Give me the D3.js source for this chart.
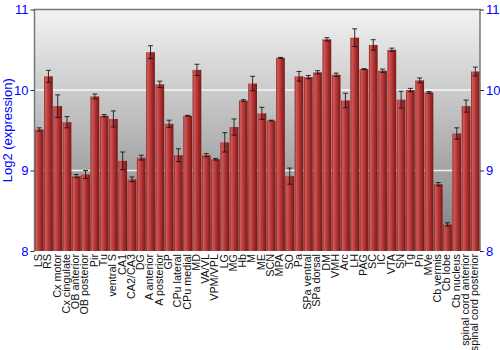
<!DOCTYPE html>
<html>
<head>
<meta charset="utf-8">
<script src="https://cdn.jsdelivr.net/npm/d3@7"></script>
<style>
  body { margin: 0; background: #fff; }
  svg { display: block; font-family: "Liberation Sans", Arial, sans-serif; }
</style>
</head>
<body>
<div class="js-chart"></div>
<script>
'use strict';

const regions = ["LS", "RS", "Cx motor", "Cx cingulate", "OB anterior", "OB posterior", "Pir", "Tu",
    "ventral S", "CA1", "CA2/CA3", "DG", "A anterior", "A posterior", "GP", "CPu lateral", "CPu medial",
    "MD", "VA/VL", "VPM/VPL", "LG", "MG", "Hb", "M", "ME", "SCN", "MPA", "SO", "Pa", "SPa ventral",
    "SPa dorsal", "DM", "VMH", "Arc", "LH", "PAG", "SC", "IC", "VTA", "SN", "Tg", "Pn", "MVe",
    "Cb vermis", "Cb lobe", "Cb nucleus", "spinal cord anterior", "spinal cord posterior"];

const expression = [9.51, 10.17, 9.80, 9.60, 8.93, 8.95, 9.92, 9.68,
    9.64, 9.12, 8.89, 9.16, 10.47, 10.07, 9.58, 9.19, 9.68,
    10.25, 9.19, 9.14, 9.35, 9.54, 9.87, 10.08, 9.71, 9.62, 10.40, 8.93, 10.17, 10.16,
    10.22, 10.63, 10.19, 9.87, 10.65, 10.26, 10.56, 10.24, 10.50, 9.88, 10.00, 10.12, 9.97,
    8.83, 8.33, 9.46, 9.80, 10.23];

const errors = [0.02, 0.075, 0.14, 0.07, 0.02, 0.05, 0.03, 0.015,
    0.1, 0.11, 0.03, 0.03, 0.08, 0.04, 0.045, 0.08, 0.005,
    0.07, 0.02, 0.01, 0.12, 0.1, 0.01, 0.09, 0.075, 0.005, 0.005, 0.1, 0.06, 0.02,
    0.02, 0.02, 0.02, 0.09, 0.11, 0.005, 0.065, 0.02, 0.02, 0.105, 0.02, 0.03, 0.01,
    0.02, 0.02, 0.07, 0.075, 0.055];

const yTicks = [8, 9, 10, 11];

function drawChart() {

    let svgWidth = 500;
    let svgHeight = 350;
    const margin = { top: 9.5, right: 20, bottom: 99, left: 34.5 };
    const plotW = svgWidth - margin.left - margin.right;
    const plotH = svgHeight - margin.top - margin.bottom;

    let svg = d3.select(".js-chart")
                .append("svg")
                .attr("width", svgWidth)
                .attr("height", svgHeight);

    const defs = svg.append("defs");

    // grey background, light at the top
    const bg = defs.append("linearGradient")
        .attr("id", "bgGrad")
        .attr("x1", 0).attr("y1", 0).attr("x2", 0).attr("y2", 1);
    bg.append("stop").attr("offset", "0%").attr("stop-color", "#f3f3f3");
    bg.append("stop").attr("offset", "100%").attr("stop-color", "#7c7c7c");

    // red bars, shaded across their width
    const barGrad = defs.append("linearGradient")
        .attr("id", "barGrad")
        .attr("x1", 0).attr("y1", 0).attr("x2", 1).attr("y2", 0);
    barGrad.append("stop").attr("offset", "0%").attr("stop-color", "#8e2424");
    barGrad.append("stop").attr("offset", "18%").attr("stop-color", "#cf5a5a");
    barGrad.append("stop").attr("offset", "45%").attr("stop-color", "#bd3b3b");
    barGrad.append("stop").attr("offset", "100%").attr("stop-color", "#7a1616");

    const g = svg.append("g")
        .attr("transform", `translate(${margin.left},${margin.top})`);

    let xScale = d3.scaleBand()
        .domain(regions)
        .range([0, plotW])
        .paddingInner(0.06)
        .paddingOuter(0.03);

    let yScale = d3.scaleLinear()
        .domain([8, 11])
        .range([plotH, 0]);

    g.append("rect")
        .attr("width", plotW)
        .attr("height", plotH)
        .attr("fill", "url(#bgGrad)");

    // grid lines at 9 and 10
    g.selectAll("line.grid")
        .data(yTicks.filter(d => d > 8 && d < 11))
        .enter()
        .append("line")
        .attr("class", "grid")
        .attr("x1", 0)
        .attr("x2", plotW)
        .attr("y1", d => yScale(d))
        .attr("y2", d => yScale(d))
        .attr("stroke", "#ffffff")
        .attr("stroke-opacity", 0.85)
        .attr("stroke-width", 1.5);

    g.selectAll("rect.bar")
        .data(expression)
        .enter()
        .append("rect")
        .attr("class", "bar")
        .attr("x", (d, i) => xScale(regions[i]))
        .attr("y", d => yScale(d))
        .attr("width", xScale.bandwidth())
        .attr("height", d => plotH - yScale(d))
        .attr("fill", "url(#barGrad)");

    // error bars
    const eb = g.selectAll("g.err")
        .data(expression)
        .enter()
        .append("g")
        .attr("class", "err")
        .attr("stroke", "#111")
        .attr("stroke-opacity", 0.85)
        .attr("stroke-width", 1);

    eb.append("line")
        .attr("x1", (d, i) => xScale(regions[i]) + xScale.bandwidth() / 2)
        .attr("x2", (d, i) => xScale(regions[i]) + xScale.bandwidth() / 2)
        .attr("y1", (d, i) => yScale(d + errors[i]))
        .attr("y2", (d, i) => yScale(d - errors[i]));

    [1, -1].forEach(sign => {
        eb.append("line")
            .attr("x1", (d, i) => xScale(regions[i]) + xScale.bandwidth() / 2 - 2.5)
            .attr("x2", (d, i) => xScale(regions[i]) + xScale.bandwidth() / 2 + 2.5)
            .attr("y1", (d, i) => yScale(d + sign * errors[i]))
            .attr("y2", (d, i) => yScale(d + sign * errors[i]));
    });

    // frame: left, top, right
    g.append("path")
        .attr("d", `M0,${plotH}V0H${plotW}V${plotH}`)
        .attr("fill", "none")
        .attr("stroke", "#777")
        .attr("stroke-width", 1.5);

    const leftAxis = d3.axisLeft(yScale).tickValues(yTicks).tickFormat(d3.format("d")).tickSize(4).tickPadding(2);
    const rightAxis = d3.axisRight(yScale).tickValues(yTicks).tickFormat(d3.format("d")).tickSize(4).tickPadding(2);

    [g.append("g").call(leftAxis),
     g.append("g").attr("transform", `translate(${plotW},0)`).call(rightAxis)].forEach(ax => {
        ax.select(".domain").remove();
        ax.selectAll(".tick line").attr("stroke", "#333");
        ax.selectAll(".tick text")
            .attr("fill", "#0000ff")
            .attr("font-size", "13px")
            .attr("font-family", "Liberation Sans, Arial, sans-serif");
    });

    svg.append("text")
        .text("Log2 (expression)")
        .attr("transform", `translate(12,${margin.top + plotH / 2}) rotate(-90)`)
        .attr("text-anchor", "middle")
        .attr("font-size", "13px")
        .attr("fill", "#0000ff");

    // category labels, rotated
    g.selectAll("text.cat")
        .data(regions)
        .enter()
        .append("text")
        .attr("class", "cat")
        .text(d => d)
        .attr("text-anchor", "end")
        .attr("dominant-baseline", "middle")
        .attr("font-size", "10.8px")
        .attr("fill", "#111")
        .attr("transform", d => `translate(${xScale(d) + xScale.bandwidth() / 2},${plotH + 3}) rotate(-90)`);
}

drawChart();
</script>
</body>
</html>
